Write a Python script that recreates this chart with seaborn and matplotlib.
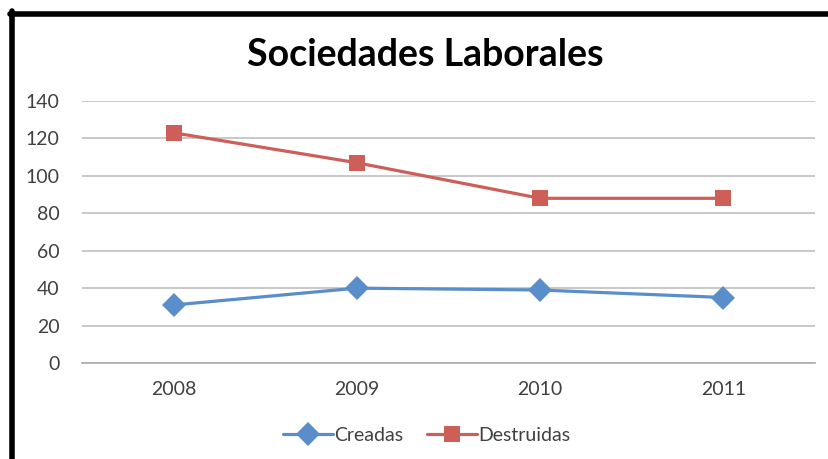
import matplotlib
matplotlib.use("Agg")
import matplotlib.pyplot as plt
import seaborn as sns
import pandas as pd
from matplotlib.lines import Line2D

years = ["2008", "2009", "2010", "2011"]
creadas = [31, 40, 39, 35]
destruidas = [123, 107, 88, 88]
series_names = ["Creadas", "Destruidas"]

df = pd.DataFrame({
    "year": years * 2,
    "value": creadas + destruidas,
    "serie": [series_names[0]] * len(years) + [series_names[1]] * len(years),
})

sns.set_style("white")
plt.rcParams["font.family"] = ["Lato", "DejaVu Sans"]

fig = plt.figure(figsize=(8.29, 4.59), dpi=100)
ax = fig.add_axes([82 / 829, 1 - 363 / 459, (815 - 82) / 829, (363 - 101) / 459])

palette = {"Creadas": "#5A8ECB", "Destruidas": "#CD5E58"}
markers = {"Creadas": "D", "Destruidas": "s"}
sns.lineplot(data=df, x="year", y="value", hue="serie", style="serie",
             palette=palette, markers=markers, dashes=False, markersize=12,
             linewidth=2.3, markeredgewidth=0, ax=ax, sort=False)

ax.set_xlim(-0.5, 3.5)
ax.set_ylim(0, 140)
ax.set_yticks(range(0, 141, 20))
ax.yaxis.grid(True, color="#C4C4C4", linewidth=1.3)
ax.set_axisbelow(True)
for s in ["left", "right", "top"]:
    ax.spines[s].set_visible(False)
ax.spines["bottom"].set_color("#B0B0B0")
ax.spines["bottom"].set_linewidth(1.3)
ax.tick_params(axis="y", length=0, pad=16, labelsize=14, labelcolor="#404040")
ax.tick_params(axis="x", length=0, pad=13, labelsize=14, labelcolor="#404040")
ax.set_xlabel("")
ax.set_ylabel("")

fig.text(0.513, 1 - 55 / 459, "Sociedades Laborales", ha="center", va="center",
         fontsize=27, fontweight="bold", color="black")

handles, labels = ax.get_legend_handles_labels()
for h in handles:
    h.set_markersize(12)
ax.legend(handles, labels, loc="center", bbox_to_anchor=(0.47, -0.275), ncol=2,
          frameon=False, fontsize=14, handlelength=2.6, columnspacing=1.2,
          handletextpad=0.05, labelcolor="#404040")

# black frame at left and top
fig.add_artist(Line2D([12.5 / 829, 12.5 / 829], [0, 1 - 11 / 459],
                      color="black", linewidth=4, transform=fig.transFigure))
fig.add_artist(Line2D([10 / 829, 1], [1 - 14 / 459, 1 - 14 / 459],
                      color="black", linewidth=4, transform=fig.transFigure))

fig.savefig("out.png", dpi=100)
